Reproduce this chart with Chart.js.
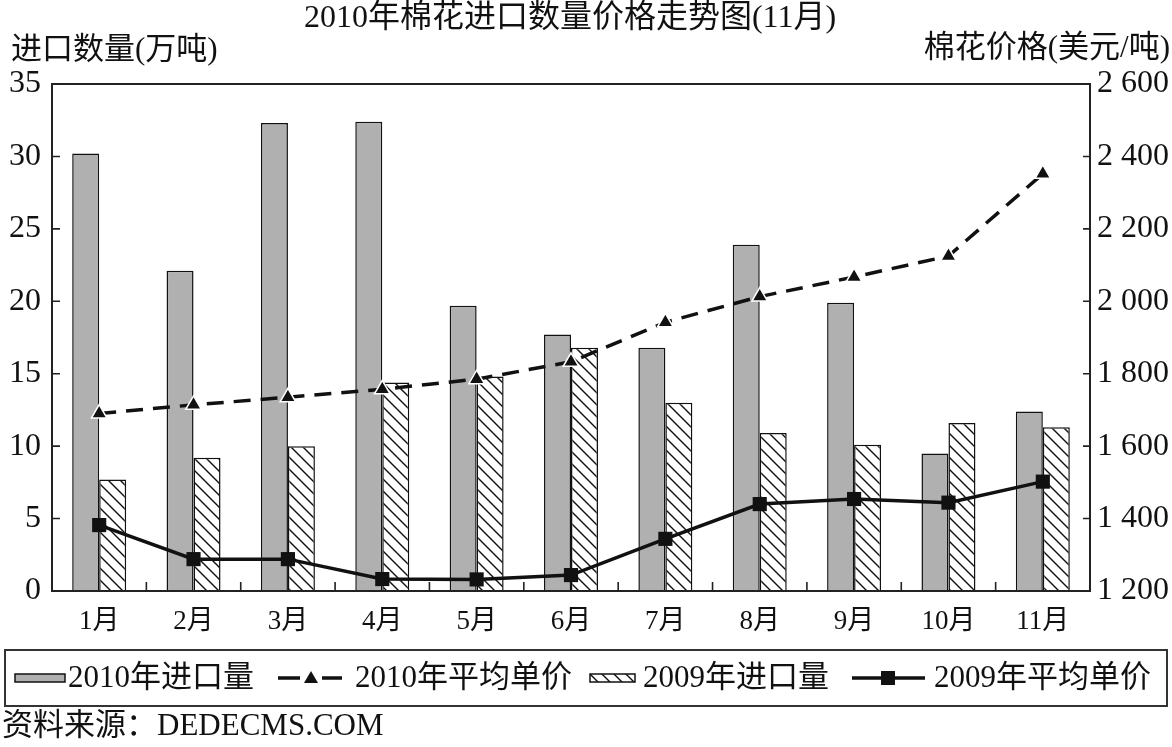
<!DOCTYPE html>
<html>
<head>
<meta charset="utf-8">
<script src="https://cdn.jsdelivr.net/npm/chart.js@4/dist/chart.umd.min.js"></script>
<style>
  html, body { margin: 0; padding: 0; background: #fff; }
  #wrap { position: relative; width: 1172px; height: 747px; }
</style>
</head>
<body>
<div id="wrap"><canvas id="myChart" width="1172" height="747"></canvas></div>
<script>
// chart data
const months = ['1月', '2月', '3月', '4月', '5月', '6月', '7月', '8月', '9月', '10月', '11月'];
const import2010 = [30.2, 22.1, 32.3, 32.4, 19.7, 17.7, 16.8, 23.9, 19.9, 9.5, 12.4];
const import2009 = [7.7, 9.2, 10.0, 14.4, 14.8, 16.8, 13.0, 10.9, 10.1, 11.6, 11.3];
const price2010 = [1690, 1714, 1735, 1757, 1785, 1833, 1942, 2013, 2067, 2125, 2352];
const price2009 = [1382, 1288, 1288, 1233, 1232, 1244, 1344, 1440, 1454, 1444, 1502];
const leftTicks = [0, 35, 5];       // min, max, step
const rightTicks = [1200, 2600, 200];

const FONT = '"Liberation Serif", "Noto Sans CJK SC", serif';
Chart.defaults.font.family = FONT;
Chart.defaults.color = '#111';

//diagonal hatch for the 2009 bars
const makeHatch = () => {
  const c = document.createElement('canvas');
  c.width = 12; c.height = 12;
  const g = c.getContext('2d');
  g.fillStyle = '#fff';
  g.fillRect(0, 0, 12, 12);
  g.strokeStyle = '#111';
  g.lineWidth = 1.4;
  g.beginPath();
  g.moveTo(-2, -2); g.lineTo(14, 14);
  g.moveTo(-2, 10); g.lineTo(2, 14);
  g.moveTo(10, -2); g.lineTo(14, 2);
  g.stroke();
  return g.createPattern(c, 'repeat');
};
const hatch = makeHatch();

//text, frame, inner ticks and legend drawn on top
const decor = {
  id: 'decor',
  afterDraw(chart) {
    const ctx = chart.ctx;
    const a = chart.chartArea;
    const x = chart.scales.x, yl = chart.scales.y, yr = chart.scales.y1;
    ctx.save();
    ctx.strokeStyle = '#222';
    ctx.lineWidth = 2;
    ctx.strokeRect(a.left, a.top, a.right - a.left, a.bottom - a.top);

    //small inward ticks
    ctx.lineWidth = 1.6;
    ctx.beginPath();
    for (let i = 1; i < months.length; i++) {
      const px = (x.getPixelForValue(i - 1) + x.getPixelForValue(i)) / 2;
      ctx.moveTo(px, a.bottom); ctx.lineTo(px, a.bottom - 9);
    }
    yl.ticks.forEach(t => {
      const py = yl.getPixelForValue(t.value);
      ctx.moveTo(a.left, py); ctx.lineTo(a.left + 8, py);
    });
    yr.ticks.forEach(t => {
      const py = yr.getPixelForValue(t.value);
      ctx.moveTo(a.right, py); ctx.lineTo(a.right - 7, py);
    });
    ctx.stroke();

    ctx.fillStyle = '#111';
    ctx.textBaseline = 'middle';
    ctx.font = '32px ' + FONT;
    ctx.textAlign = 'center';
    ctx.fillText('2010年棉花进口数量价格走势图(11月)', 570, 19);
    ctx.font = '31px ' + FONT;
    ctx.textAlign = 'left';
    ctx.fillText('进口数量(万吨)', 11, 51);
    ctx.textAlign = 'right';
    ctx.fillText('棉花价格(美元/吨)', 1170, 49);
    ctx.textAlign = 'left';
    ctx.fillText('资料来源：DEDECMS.COM', 2, 727);

    //legend
    const ly = 678;
    ctx.lineWidth = 2;
    ctx.strokeStyle = '#333';
    ctx.strokeRect(5, 650, 1162, 56);
    ctx.strokeStyle = '#111';
    ctx.lineWidth = 1.5;
    ctx.fillStyle = '#b0b0b0';
    ctx.fillRect(15, ly - 4, 50, 8);
    ctx.strokeRect(15, ly - 4, 50, 8);
    ctx.fillStyle = hatch;
    ctx.fillRect(590, ly - 4, 45, 8);
    ctx.strokeRect(590, ly - 4, 45, 8);

    ctx.lineWidth = 3.5;
    ctx.beginPath();
    ctx.moveTo(278, ly); ctx.lineTo(300, ly);
    ctx.moveTo(322, ly); ctx.lineTo(342, ly);
    ctx.moveTo(852, ly); ctx.lineTo(925, ly);
    ctx.stroke();
    ctx.fillStyle = '#111';
    ctx.beginPath();
    ctx.moveTo(311, ly - 7); ctx.lineTo(318, ly + 5); ctx.lineTo(304, ly + 5);
    ctx.closePath();
    ctx.fill();
    ctx.fillRect(881, ly - 7, 14, 14);

    ctx.font = '31px ' + FONT;
    ctx.fillText('2010年进口量', 68, ly + 1);
    ctx.fillText('2010年平均单价', 355, ly + 1);
    ctx.fillText('2009年进口量', 643, ly + 1);
    ctx.fillText('2009年平均单价', 934, ly + 1);
    ctx.restore();
  }
};

const chartData = {
  labels: months,
  datasets: [
    {
      type: 'line',
      label: '2010年平均单价',
      data: price2010,
      yAxisID: 'y1',
      borderColor: '#111',
      borderWidth: 3.5,
      borderDash: [17, 10],
      pointStyle: 'triangle',
      pointRadius: 9,
      pointBackgroundColor: '#111',
      pointBorderColor: '#fff',
      pointBorderWidth: 1.5,
      tension: 0,
      order: 0,
    },
    {
      type: 'line',
      label: '2009年平均单价',
      data: price2009,
      yAxisID: 'y1',
      borderColor: '#111',
      borderWidth: 3.5,
      pointStyle: 'rect',
      pointRadius: 10,
      pointBackgroundColor: '#111',
      pointBorderColor: '#111',
      pointBorderWidth: 0,
      tension: 0,
      order: 0,
    },
    {
      type: 'bar',
      label: '2010年进口量',
      data: import2010,
      yAxisID: 'y',
      backgroundColor: '#b0b0b0',
      borderColor: '#111',
      borderWidth: 1.5,
      borderSkipped: 'bottom',
      order: 1,
    },
    {
      type: 'bar',
      label: '2009年进口量',
      data: import2009,
      yAxisID: 'y',
      backgroundColor: hatch,
      borderColor: '#111',
      borderWidth: 1.5,
      borderSkipped: 'bottom',
      order: 1,
    },
  ],
};

const chartOptions = {
  responsive: false,
  animation: false,
  devicePixelRatio: 1,
  layout: { padding: { top: 84, left: 0, right: 0, bottom: 0 } },
  datasets: { bar: { categoryPercentage: 0.572, barPercentage: 1.0 } },
  plugins: { legend: { display: false }, title: { display: false }, tooltip: { enabled: false } },
  scales: {
    x: {
      offset: true,
      grid: { display: false, drawTicks: false },
      border: { display: false },
      ticks: { font: { size: 27 }, padding: 15, color: '#111', maxRotation: 0 },
      afterFit: (s) => { s.height = 156; },
    },
    y: {
      position: 'left',
      min: leftTicks[0], max: leftTicks[1],
      grid: { display: false, drawTicks: false },
      border: { display: false },
      ticks: { stepSize: leftTicks[2], font: { size: 32 }, padding: 11, color: '#111' },
      afterFit: (s) => { s.width = 52; },
    },
    y1: {
      position: 'right',
      min: rightTicks[0], max: rightTicks[1],
      grid: { display: false, drawTicks: false },
      border: { display: false },
      ticks: {
        stepSize: rightTicks[2], font: { size: 32 }, padding: 7, color: '#111',
        callback: (v) => String(v).replace(/\B(?=(\d{3})+(?!\d))/g, ' '),
      },
      afterFit: (s) => { s.width = 82; },
    },
  },
};

new Chart(document.getElementById('myChart').getContext('2d'), {
  type: 'bar',
  data: chartData,
  options: chartOptions,
  plugins: [decor],
});
</script>
</body>
</html>
